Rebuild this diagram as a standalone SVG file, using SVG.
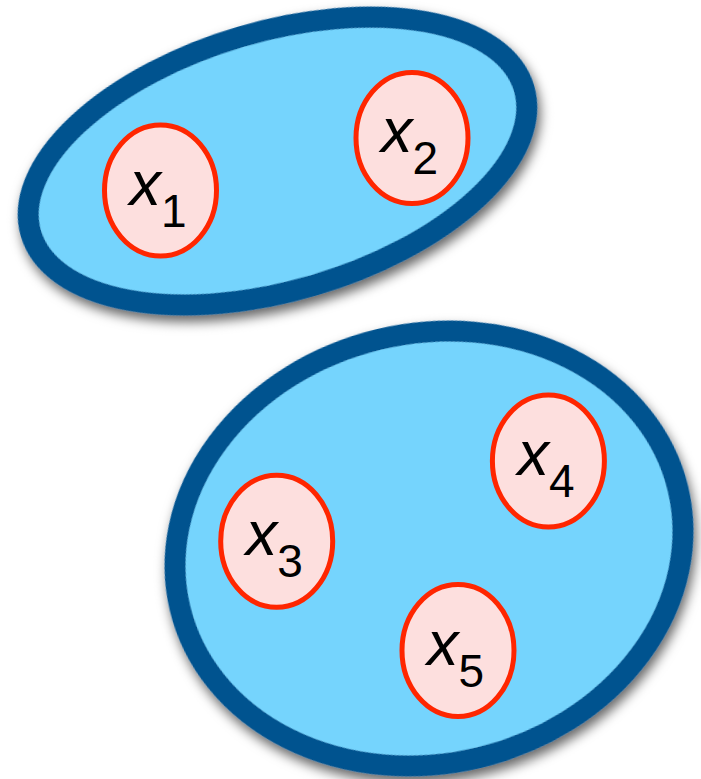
<svg xmlns="http://www.w3.org/2000/svg" width="701" height="779" viewBox="0 0 701 779">
  <style>
    .set { fill: #74D4FD; stroke: #00528F; stroke-width: 21; }
    .elem { fill: #FDDFDE; stroke: #FF2600; stroke-width: 5; }
    .v { font-family: "Liberation Sans", Arial, Helvetica, sans-serif; font-size: 63px; font-style: italic; fill: #000; }
    .s { font-style: normal; font-size: 46px; }
  </style>
  <defs>
    <filter id="shadow" x="-20%" y="-20%" width="140%" height="150%">
      <feDropShadow dx="1" dy="7" stdDeviation="6" flood-color="#000" flood-opacity="0.6"/>
    </filter>
  </defs>
  <rect width="701" height="779" fill="#fff"/>

  <g id="set-a">
    <ellipse class="set" cx="277.5" cy="161" rx="257" ry="129.5" transform="rotate(-16.4 277.5 161)" filter="url(#shadow)"/>
  </g>
  <g id="set-b">
    <ellipse class="set" cx="429" cy="548.5" rx="256" ry="215" transform="rotate(-13.5 429 548.5)" filter="url(#shadow)"/>
  </g>

  <g id="x1">
    <ellipse class="elem" cx="160.5" cy="190.5" rx="56" ry="65.5"/>
    <text class="v" x="129.5" y="204.5">x<tspan class="s" dy="22">1</tspan></text>
  </g>
  <g id="x2">
    <ellipse class="elem" cx="412" cy="138" rx="56" ry="65.5"/>
    <text class="v" x="381" y="152">x<tspan class="s" dy="22">2</tspan></text>
  </g>
  <g id="x3">
    <ellipse class="elem" cx="276.7" cy="541.3" rx="56" ry="66"/>
    <text class="v" x="245.7" y="555.3">x<tspan class="s" dy="22">3</tspan></text>
  </g>
  <g id="x4">
    <ellipse class="elem" cx="548.4" cy="461" rx="56" ry="66"/>
    <text class="v" x="517.4" y="475">x<tspan class="s" dy="22">4</tspan></text>
  </g>
  <g id="x5">
    <ellipse class="elem" cx="458" cy="650.5" rx="56" ry="66"/>
    <text class="v" x="427" y="664.5">x<tspan class="s" dy="22">5</tspan></text>
  </g>

  <g id="connectors"/>
</svg>
